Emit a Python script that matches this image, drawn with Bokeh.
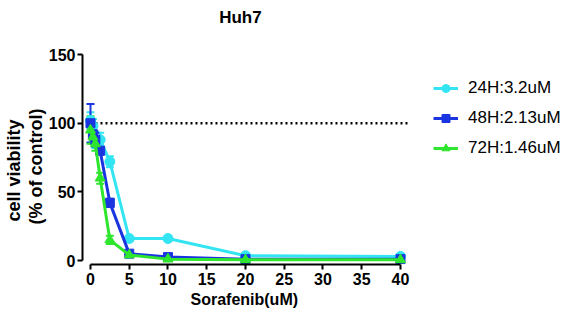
import math
from bokeh.plotting import figure
from bokeh.models import Range1d, LinearAxis, FixedTicker, Label, Legend, LegendItem, Whisker, TeeHead, ColumnDataSource, Title
from bokeh.embed import file_html
from bokeh.resources import INLINE

conc = [0, 0.3125, 0.625, 1.25, 2.5, 5, 10, 20, 40]
v24 = [102, 98, 88, 88, 72, 16, 16, 3.5, 3]
e24 = [6, 5, 6, 5, 4, 2, 2, 1, 1]
v48 = [100, 92, 88, 80, 42, 5, 2.5, 1, 1]
e48 = [14, 6, 5, 3, 3, 1, 1, 0.5, 0.5]
v72 = [95, 90, 85, 60, 15, 4, 1, 0.5, 0.5]
e72 = [10, 5, 5, 4, 3, 1, 0.5, 0.5, 0.5]
labels = ["24H:3.2uM", "48H:2.13uM", "72H:1.46uM"]
colors = ["#33e5f2", "#1a35e0", "#2ee62e"]
x_ticks = [0, 5, 10, 15, 20, 25, 30, 35, 40]
y_ticks = [0, 50, 100, 150]

FONT = "Liberation Sans"

p = figure(width=565, height=321, output_backend="svg", toolbar_location=None,
           x_range=Range1d(-1.03, 61.29), y_range=Range1d(-2.91, 189.4),
           min_border_left=82, min_border_right=0, min_border_top=0, min_border_bottom=57,
           x_axis_type=None, y_axis_type=None)
p.outline_line_color = None
p.xgrid.visible = False
p.ygrid.visible = False
p.background_fill_color = "white"

xa = LinearAxis(bounds=(0, 40), ticker=FixedTicker(ticks=x_ticks))
ya = LinearAxis(bounds=(0, 150), ticker=FixedTicker(ticks=y_ticks))
for ax in (xa, ya):
    ax.axis_line_width = 2
    ax.axis_line_color = "black"
    ax.major_tick_line_width = 2
    ax.major_tick_line_color = "black"
    ax.major_tick_out = 5
    ax.major_tick_in = 0
    ax.minor_tick_line_color = None
    ax.major_label_text_font = FONT
    ax.major_label_text_font_style = "bold"
    ax.major_label_text_font_size = "16px"
    ax.major_label_text_color = "black"
xa.major_label_standoff = 3
ya.major_label_standoff = 2
p.add_layout(xa, "below")
p.add_layout(ya, "left")

# axis titles as side-panel titles (not clipped by the frame)
p.add_layout(Title(text="Sorafenib(uM)", align="left", offset=108, standoff=2,
                   text_font=FONT, text_font_style="bold", text_font_size="16px",
                   text_color="black"), "below")
p.add_layout(Title(text="(% of control)", align="left", offset=40, standoff=0,
                   text_font=FONT, text_font_style="bold", text_font_size="18px",
                   text_color="black"), "left")
p.add_layout(Title(text="cell viability", align="left", offset=43, standoff=0,
                   text_font=FONT, text_font_style="bold", text_font_size="18px",
                   text_color="black"), "left")

# dotted reference line at 100
p.line([0, 41], [100, 100], line_color="black", line_width=2.5, line_dash="2 3")

markers = ["circle", "square", "triangle"]
sizes = [10, 9, 10]
items = []
for vals, errs, lab, col, mk, sz in zip([v24, v48, v72], [e24, e48, e72], labels, colors, markers, sizes):
    src = ColumnDataSource(dict(x=conc, y=vals,
                                lo=[v - e for v, e in zip(vals, errs)],
                                hi=[v + e for v, e in zip(vals, errs)]))
    w = Whisker(base="x", upper="hi", lower="lo", source=src, dimension="height",
                line_color=col, line_width=2,
                upper_head=TeeHead(size=8, line_color=col, line_width=2),
                lower_head=TeeHead(size=8, line_color=col, line_width=2))
    p.add_layout(w)
    r1 = p.line("x", "y", source=src, line_color=col, line_width=3)
    r2 = p.scatter("x", "y", source=src, marker=mk, size=sz, fill_color=col, line_color=col)
    items.append(LegendItem(label=lab, renderers=[r1, r2]))

legend = Legend(items=items, location=(351, 106), glyph_width=25, glyph_height=20,
                label_height=20, spacing=10, padding=0, margin=0, label_standoff=10,
                label_text_font=FONT, label_text_font_size="17px", label_text_color="black",
                border_line_color=None, background_fill_alpha=0)
p.add_layout(legend)

p.add_layout(Label(x=19.35, y=177, text="Huh7", text_font=FONT, text_font_style="bold",
                   text_font_size="17px", text_align="center", text_baseline="middle",
                   text_color="black"))

open("out.html", "w").write(file_html(p, INLINE))
